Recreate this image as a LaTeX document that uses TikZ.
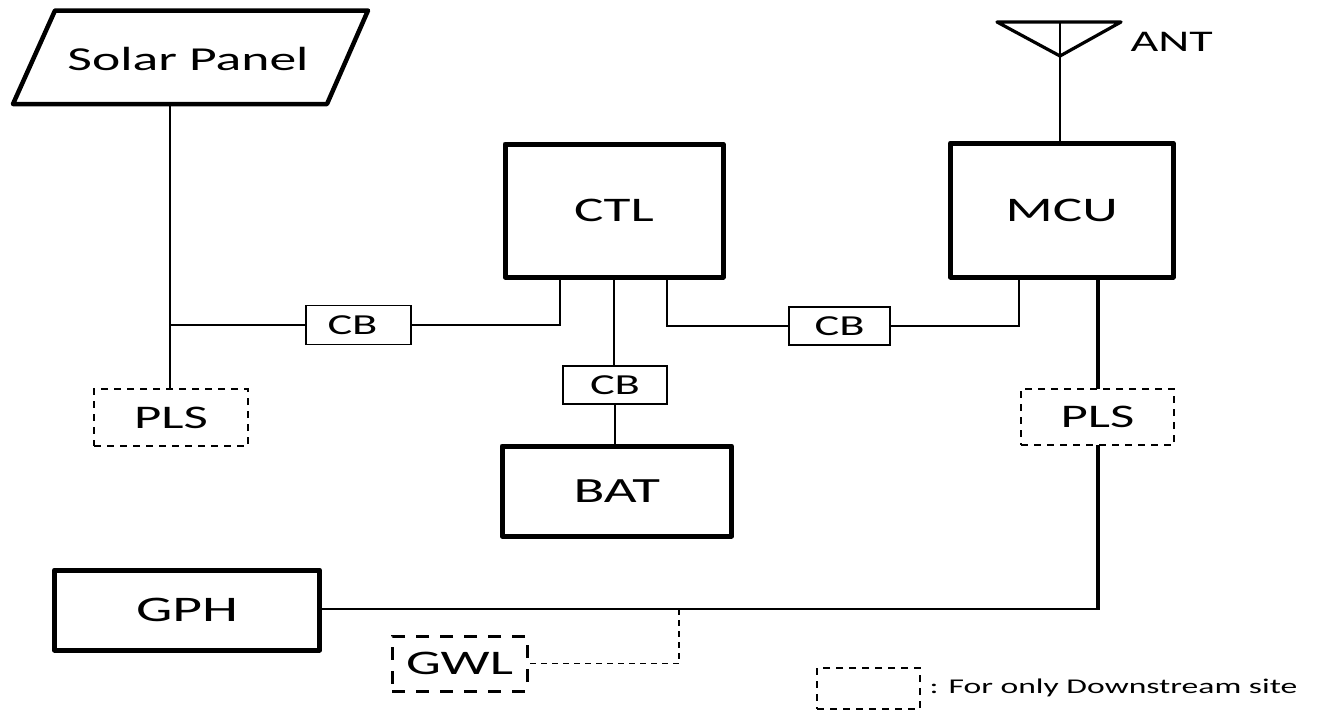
\documentclass[tikz,border=0pt]{standalone}
\usepackage{fontspec}
\setmainfont[FakeStretch=1.6]{Carlito}
\usetikzlibrary{calc}
\tikzset{
  x=1pt,y=-1pt,
  boxbase/.style={draw=black,rectangle,inner sep=0pt,outer sep=0pt,anchor=north west,align=center},
  thickbox/.style={boxbase,line width=5pt,line join=round},
  cbbox/.style={boxbase,line width=1.6pt,font=\fontsize{29}{31}\selectfont},
  dashbox/.style={boxbase,line width=1.6pt,dash pattern=on 7pt off 6pt,font=\fontsize{33}{35}\selectfont},
  wire/.style={line width=2pt},
  wireh/.style={line width=3.4pt,line cap=round},
  dwire/.style={line width=1.5pt,dash pattern=on 6pt off 5pt},
  biglabel/.style={font=\fontsize{34.5}{37}\selectfont},
}
\begin{document}
\begin{tikzpicture}
\useasboundingbox (0,0) rectangle (1338,710);
\fill[white] (0,0) rectangle (1338,710);
% boxes
\node[thickbox,biglabel,minimum width=218pt,minimum height=133pt] (ctl) at (505,144) {CTL};
\node[thickbox,biglabel,minimum width=222.5pt,minimum height=134pt] (mcu) at (950.5,143) {MCU};
\node[thickbox,font=\fontsize{35.5}{38}\selectfont,minimum width=229.5pt,minimum height=90pt] (bat) at (502,446) {BAT};
\node[thickbox,font=\fontsize{36}{38}\selectfont,minimum width=265pt,minimum height=80pt] (gph) at (54.5,570) {GPH};
\node[cbbox,minimum width=105pt,minimum height=39pt] (cba) at (306,305.5) {CB\hspace{12pt}};
\node[cbbox,minimum width=101pt,minimum height=38pt] (cbb) at (789,307) {CB};
\node[cbbox,minimum width=104pt,minimum height=38pt] (cbc) at (563,366) {CB};
\node[dashbox,minimum width=154pt,minimum height=57pt] (plsa) at (94,389) {PLS};
\node[dashbox,minimum width=153pt,minimum height=56pt] (plsb) at (1021,389) {PLS};
\node[dashbox,biglabel,line width=3pt,dash pattern=on 13pt off 11pt,minimum width=135pt,minimum height=55pt] (gwl) at (392,636) {GWL};
\node[dashbox,minimum width=103pt,minimum height=41pt] (legend) at (817,668) {};
% solar panel
\draw[line width=4.5pt,line join=round] (55,10.5) -- (368,10.5) -- (327,104) -- (13,104) -- cycle;
\node[font=\fontsize{33.5}{36}\selectfont] (solar) at (188,59) {Solar Panel};
\coordinate (solarfoot) at (170,104);
% antenna
\draw[line width=3.2pt,line join=round] (997,22) -- (1121,22) -- (1060,56) -- cycle;
\coordinate (anttop) at (1060,22);
\coordinate (antapex) at (1060,56);
\node[font=\fontsize{30}{32}\selectfont,anchor=west] (ant) at (1127,42) {ANT};
% labels
\node[font=\fontsize{21}{23}\selectfont,anchor=west] (legtxt) at (926,688) {: For only Downstream site};
% connectors
\coordinate (ja) at (170,325);
\draw[wire,line width=2.4pt] (solarfoot) -- (plsa.north -| solarfoot);
\draw[wire] (ja) -- (cba.west);
\coordinate (ctlL) at (560,277);
\draw[wire] (cba.east) -- (ctlL |- cba.east) -- (ctlL);
\coordinate (ctlR) at (667,277);
\draw[wire] (ctlR) -- (ctlR |- cbb.west) -- (cbb.west);
\coordinate (mcuL) at (1019,277);
\draw[wire] (cbb.east) -- (mcuL |- cbb.east) -- (mcuL);
\draw[wire,line width=2.6pt] (ctl.south -| 614,0) -- (cbc.north -| 614,0);
\draw[wire,line width=2.6pt] (anttop) -- (antapex |- mcu.north);
\draw[wire,line width=2.6pt] (cbc.south -| 615,0) -- (bat.north -| 615,0);
\coordinate (mcuB) at (1098,277);
\draw[wireh,line cap=butt] (mcuB) -- (plsb.north -| mcuB);
\coordinate (corner) at (1098,609);
\draw[wireh,line cap=butt] (plsb.south -| corner) -- ([yshift=-1.2pt]corner);
\draw[wire,line width=2.4pt] ([xshift=1.7pt]corner) -- (gph.east |- corner);
\coordinate (tap) at (679,609);
\draw[dwire] (tap) -- (tap |- gwl.east) -- (gwl.east);
\end{tikzpicture}
\end{document}
